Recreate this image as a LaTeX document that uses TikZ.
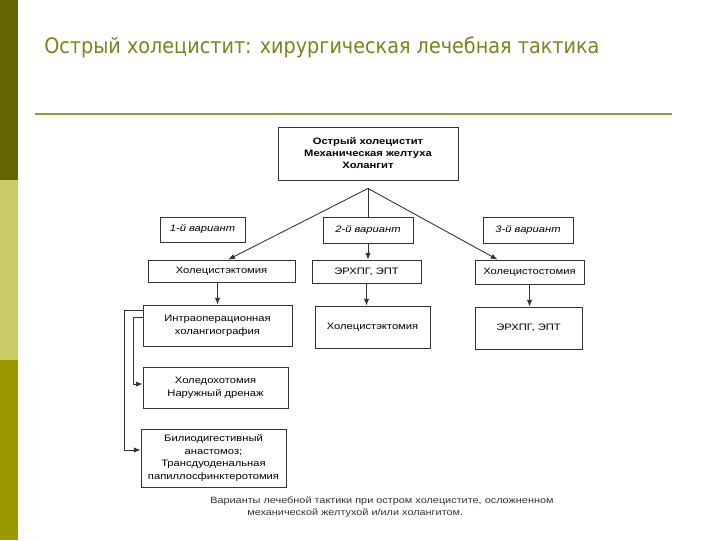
\documentclass[tikz,border=0pt]{standalone}
\usepackage{fontspec}
\setmainfont{Liberation Sans}
\newfontfamily\diagfont[FakeStretch=1.2]{Liberation Sans}
\newfontfamily\titlefont[FakeStretch=0.9]{DejaVu Sans}
\usetikzlibrary{arrows.meta}
\definecolor{barDark}{RGB}{102,102,0}
\definecolor{barLight}{RGB}{204,204,102}
\definecolor{barMid}{RGB}{153,153,0}
\definecolor{titleOlive}{RGB}{128,128,32}
\definecolor{ruleOlive}{RGB}{153,153,51}

\begin{document}
\begin{tikzpicture}[>={Latex[length=5pt,width=4pt]}, x=0.75pt, y=-0.75pt,
  box/.style={draw=black!80, line width=0.65pt, fill=white, align=center,
    inner sep=0pt, font=\diagfont\fontsize{7}{9.5}\selectfont},
  variant/.style={box, font=\diagfont\fontsize{7}{9.5}\selectfont\itshape},
  link/.style={->, draw=black!80, line width=0.65pt}]
\useasboundingbox (0,0) rectangle (720,540);
\fill[white] (0,0) rectangle (720,540);
% side bar
\fill[barDark] (0,0) rectangle (18,180);
\fill[barLight] (0,180) rectangle (18,360);
\fill[barMid] (0,360) rectangle (18,540);
% title and rule
\node[anchor=base west, text=titleOlive, inner sep=0pt,
  font=\titlefont\fontsize{16}{18}\selectfont] (title) at (44,53)
  {Острый холецистит: хирургическая лечебная тактика};
\draw[ruleOlive, line width=1.5pt] (35,113.5) -- (672,113.5);
% top box
\node[box, minimum width=135pt, minimum height=39.75pt, font=\diagfont\fontsize{7}{9}\selectfont\bfseries]
  (top) at (368,153.5) {Острый холецистит\\Механическая желтуха\\Холангит};
% second row
\node[box, minimum width=110.25pt, minimum height=16.5pt] (r2a) at (221.5,271) {Холецистэктомия};
\node[box, minimum width=81.75pt, minimum height=17.25pt] (r2b) at (366.5,271.5) {ЭРХПГ, ЭПТ};
\node[box, minimum width=81.75pt, minimum height=18pt] (r2c) at (529.5,272) {Холецистостомия};
% third row
\node[box, minimum width=111.75pt, minimum height=30.75pt] (r3a) at (217.5,325.5)
  {Интраоперационная\\холангиография};
\node[box, minimum width=86.25pt, minimum height=31.5pt] (r3b) at (372.5,327) {Холецистэктомия};
\node[box, minimum width=80.25pt, minimum height=31.5pt] (r3c) at (528.5,328) {ЭРХПГ, ЭПТ};
% left column
\node[box, minimum width=108.75pt, minimum height=30.75pt] (r4) at (215.5,387.5)
  {Холедохотомия\\Наружный дренаж};
\node[box, minimum width=108.75pt, minimum height=43.5pt] (r5) at (213.5,458)
  {Билиодигестивный\\анастомоз;\\Трансдуоденальная\\папиллосфинктеротомия};
% connectors
\coordinate (apex) at ([yshift=-6pt]top.south);
\draw[link] (apex) -- ([xshift=5pt]r2a.north);
\draw[link] (apex) -- (apex |- r2b.north);
\draw[link] (apex) -- ([xshift=-24pt]r2c.north);
\draw[link] (r3a.north |- r2a.south) -- (r3a.north);
\draw[link] (r2b.south) -- (r2b.south |- r3b.north);
\draw[link] (r2c.south) -- (r2c.south |- r3c.north);
\draw[link] ([yshift=-4.5pt]r3a.north west) -- ++(-18,0) |- ([yshift=6pt]r5.west);
\draw[link] ([yshift=-9.75pt]r3a.north west) -- ++(-9,0) |- ([yshift=2.6pt]r4.west);
% variant labels
\node[variant, minimum width=63.75pt, minimum height=18.75pt] (v1) at (202.5,229.5) {1-й вариант};
\node[variant, minimum width=67.5pt, minimum height=19.5pt] (v2) at (368,230) {2-й вариант};
\node[variant, minimum width=67.5pt, minimum height=19.5pt] (v3) at (528,230) {3-й вариант};
% caption
\node[anchor=north west, align=left, inner sep=0pt, text=black!80,
  font=\diagfont\fontsize{6.8}{9.5}\selectfont] (caption) at (210,496)
  {Варианты лечебной тактики при остром холецистите, осложненном\\
   \hspace*{27.75pt}механической желтухой и/или холангитом.};
\end{tikzpicture}
\end{document}
